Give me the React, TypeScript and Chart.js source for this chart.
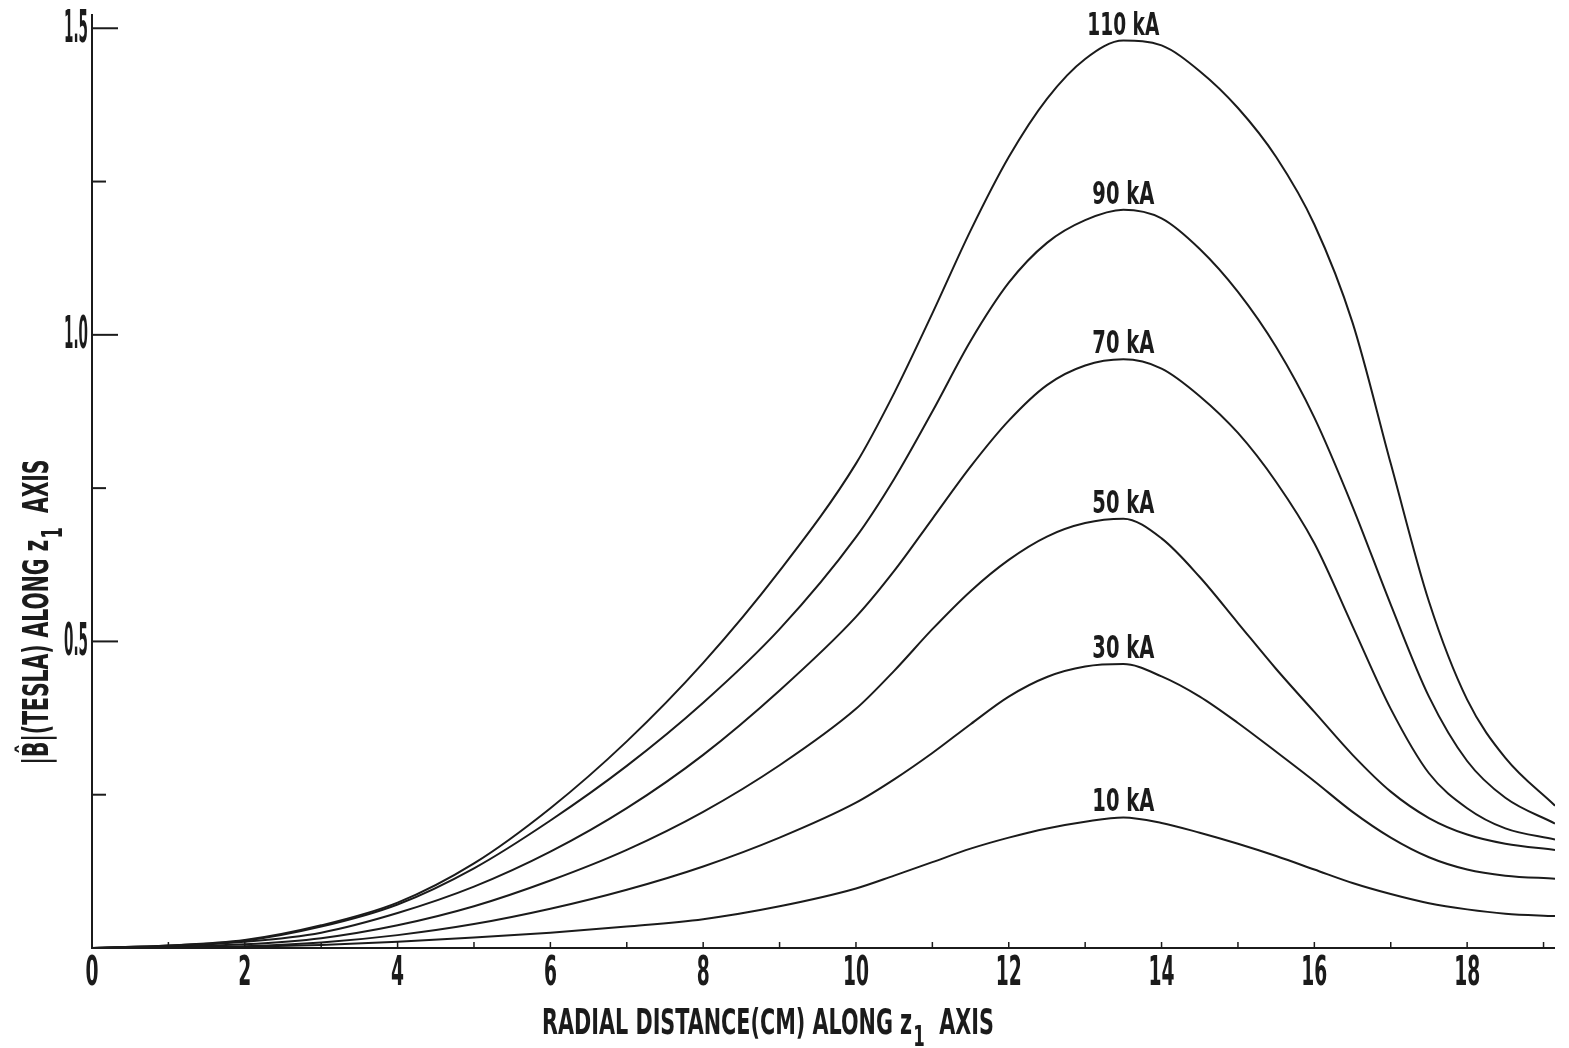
import React, { useEffect, useRef } from 'react';
import { Chart, registerables } from 'chart.js';

Chart.register(...registerables);

// Radial distance (cm) along z1 axis
const X_CM = [0, 1, 2, 3, 4, 5, 6, 7, 8, 9, 10, 10.5, 11, 11.5, 12, 12.5, 13, 13.5, 14, 14.5, 15, 15.5, 16, 16.5, 17, 17.5, 18, 18.5, 19.15];

// |B| (tesla) for each current
const B_110 = [0, 0.004, 0.013, 0.037, 0.074, 0.138, 0.228, 0.337, 0.465, 0.615, 0.79, 0.905, 1.035, 1.17, 1.29, 1.385, 1.45, 1.48, 1.472, 1.43, 1.37, 1.29, 1.18, 1.02, 0.79, 0.565, 0.405, 0.31, 0.232];
const B_90 = [0, 0.004, 0.012, 0.035, 0.071, 0.13, 0.208, 0.297, 0.4, 0.52, 0.67, 0.765, 0.875, 0.99, 1.085, 1.15, 1.187, 1.204, 1.19, 1.14, 1.07, 0.98, 0.865, 0.72, 0.56, 0.41, 0.305, 0.245, 0.203];
const B_70 = [0, 0.003, 0.01, 0.025, 0.057, 0.1, 0.157, 0.228, 0.315, 0.42, 0.54, 0.615, 0.7, 0.785, 0.86, 0.918, 0.95, 0.96, 0.945, 0.9, 0.84, 0.76, 0.66, 0.525, 0.39, 0.285, 0.228, 0.195, 0.177];
const B_50 = [0, 0.002, 0.006, 0.016, 0.037, 0.068, 0.11, 0.16, 0.222, 0.298, 0.39, 0.452, 0.52, 0.582, 0.633, 0.671, 0.693, 0.7, 0.668, 0.605, 0.53, 0.455, 0.385, 0.315, 0.255, 0.212, 0.185, 0.17, 0.16];
const B_30 = [0, 0.001, 0.003, 0.009, 0.021, 0.039, 0.064, 0.095, 0.133, 0.18, 0.237, 0.275, 0.318, 0.365, 0.41, 0.442, 0.459, 0.463, 0.443, 0.41, 0.367, 0.32, 0.272, 0.222, 0.18, 0.148, 0.128, 0.118, 0.113];
const B_10 = [0, 0.001, 0.002, 0.005, 0.01, 0.017, 0.025, 0.035, 0.047, 0.068, 0.097, 0.118, 0.14, 0.162, 0.18, 0.195, 0.206, 0.213, 0.204, 0.188, 0.17, 0.15, 0.128, 0.106, 0.088, 0.073, 0.063, 0.056, 0.052];

const CURRENT_LABELS = ['110 kA', '90 kA', '70 kA', '50 kA', '30 kA', '10 kA'];

const X_TICK_LABELS = [0, 2, 4, 6, 8, 10, 12, 14, 16, 18];
const X_ALL_TICKS = [1, 2, 3, 4, 5, 6, 7, 8, 9, 10, 11, 12, 13, 14, 15, 16, 17, 18, 19];
const Y_MAJOR_TICKS = [0.5, 1.0, 1.5];
const Y_MINOR_TICKS = [0.25, 0.75, 1.25];

const X_TITLE = ['RADIAL DISTANCE(CM) ALONG z', '1', '  AXIS'];
const Y_TITLE = ['|B\u0302|(TESLA) ALONG z', '1', '  AXIS'];

const FONT = '"Liberation Sans Narrow", "DejaVu Sans Condensed", "Liberation Sans", sans-serif';
const INK = '#1b1b1b';

function drawCond(ctx: CanvasRenderingContext2D, text: string, x: number, y: number, size: number, width: number, align: string, baseline: CanvasTextBaseline) {
  ctx.save();
  ctx.font = `bold ${size}px ${FONT}`;
  ctx.textBaseline = baseline;
  ctx.textAlign = 'left';
  const raw = ctx.measureText(text).width;
  const sx = width / raw;
  const left = align === 'center' ? x - width / 2 : align === 'right' ? x - width : x;
  ctx.translate(left, y);
  ctx.scale(sx, 1);
  ctx.fillText(text, 0, 0);
  ctx.restore();
}

function drawTitle(ctx: CanvasRenderingContext2D, parts: string[], size: number, totalWidth: number, subDrop: number) {
  ctx.save();
  ctx.font = `bold ${size}px ${FONT}`;
  const w0 = ctx.measureText(parts[0]).width;
  const w2 = ctx.measureText(parts[2]).width;
  ctx.font = `bold ${size * 0.8}px ${FONT}`;
  const w1 = ctx.measureText(parts[1]).width;
  const raw = w0 + w1 + w2 + size * 0.05;
  const sx = totalWidth / raw;
  ctx.scale(sx, 1);
  ctx.textBaseline = 'alphabetic';
  ctx.textAlign = 'left';
  let cx = -raw / 2;
  ctx.font = `bold ${size}px ${FONT}`;
  ctx.fillText(parts[0], cx, 0);
  cx += w0 + size * 0.05;
  ctx.font = `bold ${size * 0.8}px ${FONT}`;
  ctx.fillText(parts[1], cx, subDrop);
  cx += w1;
  ctx.font = `bold ${size}px ${FONT}`;
  ctx.fillText(parts[2], cx, 0);
  ctx.restore();
}

const axesPlugin = {
  id: 'paperAxes',
  afterDatasetsDraw(chart: any) {
    const ctx: CanvasRenderingContext2D = chart.ctx;
    const xs = chart.scales.x;
    const ys = chart.scales.y;
    const x0 = xs.getPixelForValue(0);
    const y0 = ys.getPixelForValue(0);
    const xEnd = xs.getPixelForValue(xs.max);
    const yTop = ys.getPixelForValue(ys.max);

    ctx.save();
    ctx.strokeStyle = INK;
    ctx.fillStyle = INK;
    ctx.lineWidth = 2;
    ctx.lineCap = 'butt';

    ctx.beginPath();
    ctx.moveTo(x0, yTop - 2);
    ctx.lineTo(x0, y0);
    ctx.lineTo(xEnd, y0);
    ctx.stroke();

    Y_MAJOR_TICKS.forEach((v) => {
      const py = ys.getPixelForValue(v);
      ctx.beginPath();
      ctx.moveTo(x0, py);
      ctx.lineTo(x0 + 26, py);
      ctx.stroke();
      drawCond(ctx, v.toFixed(1), x0 - 4, py + 2, 44, 24, 'right', 'middle');
    });
    Y_MINOR_TICKS.forEach((v) => {
      const py = ys.getPixelForValue(v);
      ctx.beginPath();
      ctx.moveTo(x0, py);
      ctx.lineTo(x0 + 14, py);
      ctx.stroke();
    });

    ctx.lineWidth = 1.5;
    X_ALL_TICKS.forEach((v) => {
      const px = xs.getPixelForValue(v);
      ctx.beginPath();
      ctx.moveTo(px, y0);
      ctx.lineTo(px, y0 - 6);
      ctx.stroke();
    });
    X_TICK_LABELS.forEach((v) => {
      const px = xs.getPixelForValue(v);
      const s = String(v);
      drawCond(ctx, s, px, y0 + 7, 40, s.length * 13, 'center', 'top');
    });

    chart.data.datasets.forEach((ds: any, i: number) => {
      let best = ds.data[0];
      ds.data.forEach((p: any) => { if (p.y > best.y) best = p; });
      const px = xs.getPixelForValue(best.x);
      const py = ys.getPixelForValue(best.y);
      const label = CURRENT_LABELS[i];
      drawCond(ctx, label, px, py - 6, 32, label.length === 6 ? 72 : 62, 'center', 'alphabetic');
    });

    ctx.save();
    ctx.translate(768, 1034);
    drawTitle(ctx, X_TITLE, 36, 452, 12);
    ctx.restore();

    ctx.save();
    ctx.translate(48, 612);
    ctx.rotate(-Math.PI / 2);
    drawTitle(ctx, Y_TITLE, 36, 305, 14);
    ctx.restore();

    ctx.restore();
  },
};

export default function App() {
  const ref = useRef<HTMLCanvasElement>(null);
  useEffect(() => {
    const canvas = ref.current;
    if (!canvas) return;
    const series = [B_110, B_90, B_70, B_50, B_30, B_10];
    const datasets = series.map((vals, i) => ({
      label: CURRENT_LABELS[i],
      data: X_CM.map((x, j) => ({ x, y: vals[j] })),
      borderColor: INK,
      borderWidth: 2,
      pointRadius: 0,
      cubicInterpolationMode: 'monotone' as const,
      fill: false,
    }));
    const chart = new Chart(canvas, {
      type: 'line',
      data: { datasets },
      options: {
        responsive: false,
        animation: false,
        layout: { padding: { left: 92, right: 14, top: 16, bottom: 100 } },
        scales: {
          x: { type: 'linear', min: 0, max: 19.15, display: false },
          y: { type: 'linear', min: 0, max: 1.52, display: false },
        },
        plugins: { legend: { display: false }, tooltip: { enabled: false } },
      },
      plugins: [axesPlugin],
    });
    return () => chart.destroy();
  }, []);
  return (
    <div style={{ position: 'fixed', left: 0, top: 0, width: 1569, height: 1048, background: '#fff' }}>
      <canvas ref={ref} width={1569} height={1048} style={{ display: 'block' }} />
    </div>
  );
}
